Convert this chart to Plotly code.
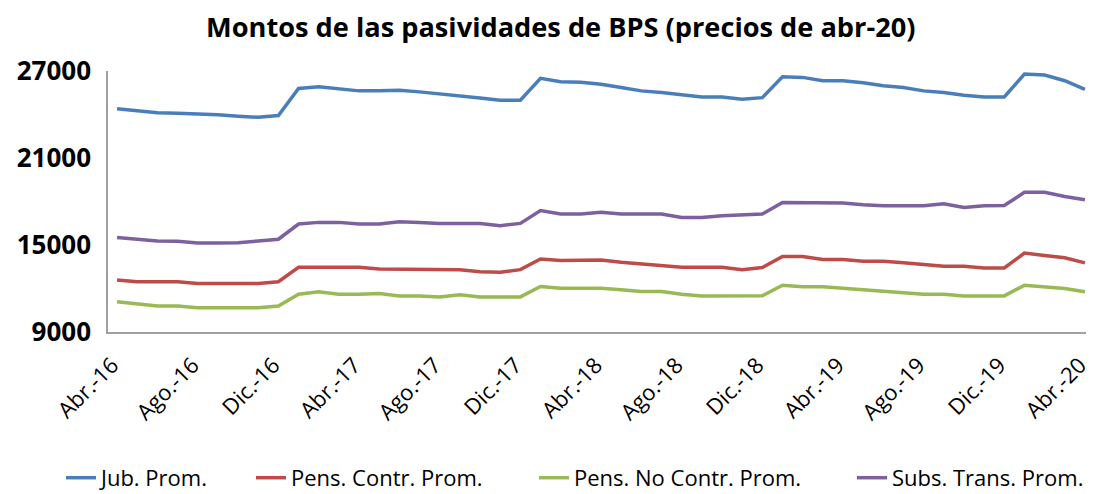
import plotly.graph_objects as go

meses = ["Abr", "May", "Jun", "Jul", "Ago", "Sep", "Oct", "Nov", "Dic", "Ene", "Feb", "Mar"]
periodos = []
for i in range(49):
    m = meses[i % 12]
    anio = 16 + (i + 3) // 12
    periodos.append(f"{m}.-{anio}")

jub = [24400, 24230, 24120, 24090, 24050, 23980, 23880, 23810, 23930,
       25790, 25910, 25790, 25630, 25630, 25670, 25560,
       25440, 25260, 25140, 24980, 24980,
       26490, 26260, 26230, 26090, 25860, 25630, 25510,
       25330, 25210, 25210, 25050, 25160,
       26600, 26560, 26330, 26330, 26190, 25980, 25860,
       25630, 25510, 25330, 25210, 25210,
       26790, 26720, 26330, 25740]

pens_contr = [12580, 12470, 12470, 12470, 12350, 12350, 12350, 12350, 12470,
              13460, 13460, 13460, 13460, 13340, 13340, 13340,
              13300, 13300, 13160, 13120, 13300,
              14040, 13930, 13930, 13970, 13810, 13700, 13580,
              13460, 13460, 13460, 13300, 13450,
              14210, 14210, 14000, 14000, 13880, 13880, 13770,
              13650, 13530, 13530, 13420, 13420,
              14440, 14280, 14120, 13770]

pens_no_contr = [11090, 10950, 10790, 10790, 10670, 10670, 10670, 10670, 10790,
                 11600, 11770, 11600, 11600, 11650, 11490, 11490,
                 11420, 11560, 11420, 11420, 11420,
                 12140, 12020, 12020, 12020, 11910, 11790, 11790,
                 11600, 11490, 11490, 11490, 11500,
                 12230, 12120, 12120, 12020, 11950, 11840, 11720,
                 11600, 11600, 11490, 11490, 11490,
                 12230, 12120, 12000, 11770]

subs_trans = [15510, 15400, 15280, 15260, 15140, 15140, 15160, 15280, 15400,
              16450, 16560, 16560, 16450, 16450, 16600, 16560,
              16490, 16490, 16490, 16330, 16490,
              17370, 17140, 17140, 17250, 17140, 17140, 17140,
              16900, 16900, 17020, 17060, 17130,
              17930, 17930, 17930, 17890, 17770, 17700, 17700,
              17700, 17840, 17580, 17700, 17720,
              18630, 18630, 18350, 18120]

series = [
    ("Jub. Prom.", jub, "#4A7EBB"),
    ("Pens. Contr. Prom.", pens_contr, "#BE4B48"),
    ("Pens. No Contr. Prom.", pens_no_contr, "#98B954"),
    ("Subs. Trans. Prom.", subs_trans, "#7D60A0"),
]

FONT = "Open Sans"
# the page body keeps its default 8px margin, so the figure is 8px smaller
# than the window and everything is laid out 8px up/left
W, H = 1086, 486
L, R, T, B = 100, 1, 63, 162
PLOT_W = W - L - R
# left pixel of each legend entry (one legend per series so the spacing can follow the original)
legend_px = [53, 243, 526, 844]

fig = go.Figure()
for k, (nombre, valores, color) in enumerate(series):
    ref = "legend" if k == 0 else f"legend{k + 1}"
    fig.add_scatter(
        x=periodos, y=valores, name=nombre, mode="lines",
        line=dict(color=color, width=3.5), legend=ref,
    )

legend_style = dict(
    orientation="h", xanchor="left", y=-0.559, yanchor="middle",
    font=dict(size=22, family=FONT, color="#000000"), bgcolor="rgba(0,0,0,0)",
)
layout_legends = {}
for k, px_left in enumerate(legend_px):
    ref = "legend" if k == 0 else f"legend{k + 1}"
    layout_legends[ref] = dict(legend_style, x=(px_left - L) / PLOT_W)

fig.update_layout(
    width=W, height=H,
    paper_bgcolor="white", plot_bgcolor="white",
    margin=dict(l=L, r=R, t=T, b=B, autoexpand=False),
    font=dict(family=FONT, color="#000000"),
    title=dict(
        text="<b>Montos de las pasividades de BPS (precios de abr-20)</b>",
        x=0.509, xanchor="center", y=0.959, yanchor="middle",
        font=dict(size=27.2, family=FONT),
    ),
    showlegend=True,
    **layout_legends,
)
fig.update_xaxes(
    type="category", range=[-0.45, 48.4],
    tickvals=periodos[::4], ticktext=periodos[::4],
    tickangle=-45, showgrid=False, showline=True, linecolor="#A0A0A0", linewidth=1.5,
    ticks="", ticklabelstandoff=10, ticklabelshift=-5, automargin=False,
    tickfont=dict(size=22, family=FONT, color="#000000"),
)
fig.update_yaxes(
    range=[9000, 27000], tickvals=[9000, 15000, 21000, 27000],
    ticktext=["9000", "15000", "21000", "27000"],
    showgrid=False, showline=True, linecolor="#A0A0A0", linewidth=1.5,
    ticks="", ticklabelstandoff=10, zeroline=False, automargin=False,
    tickfont=dict(size=26, family=FONT, color="#000000", weight="bold"),
)

fig.write_html("out.html")
